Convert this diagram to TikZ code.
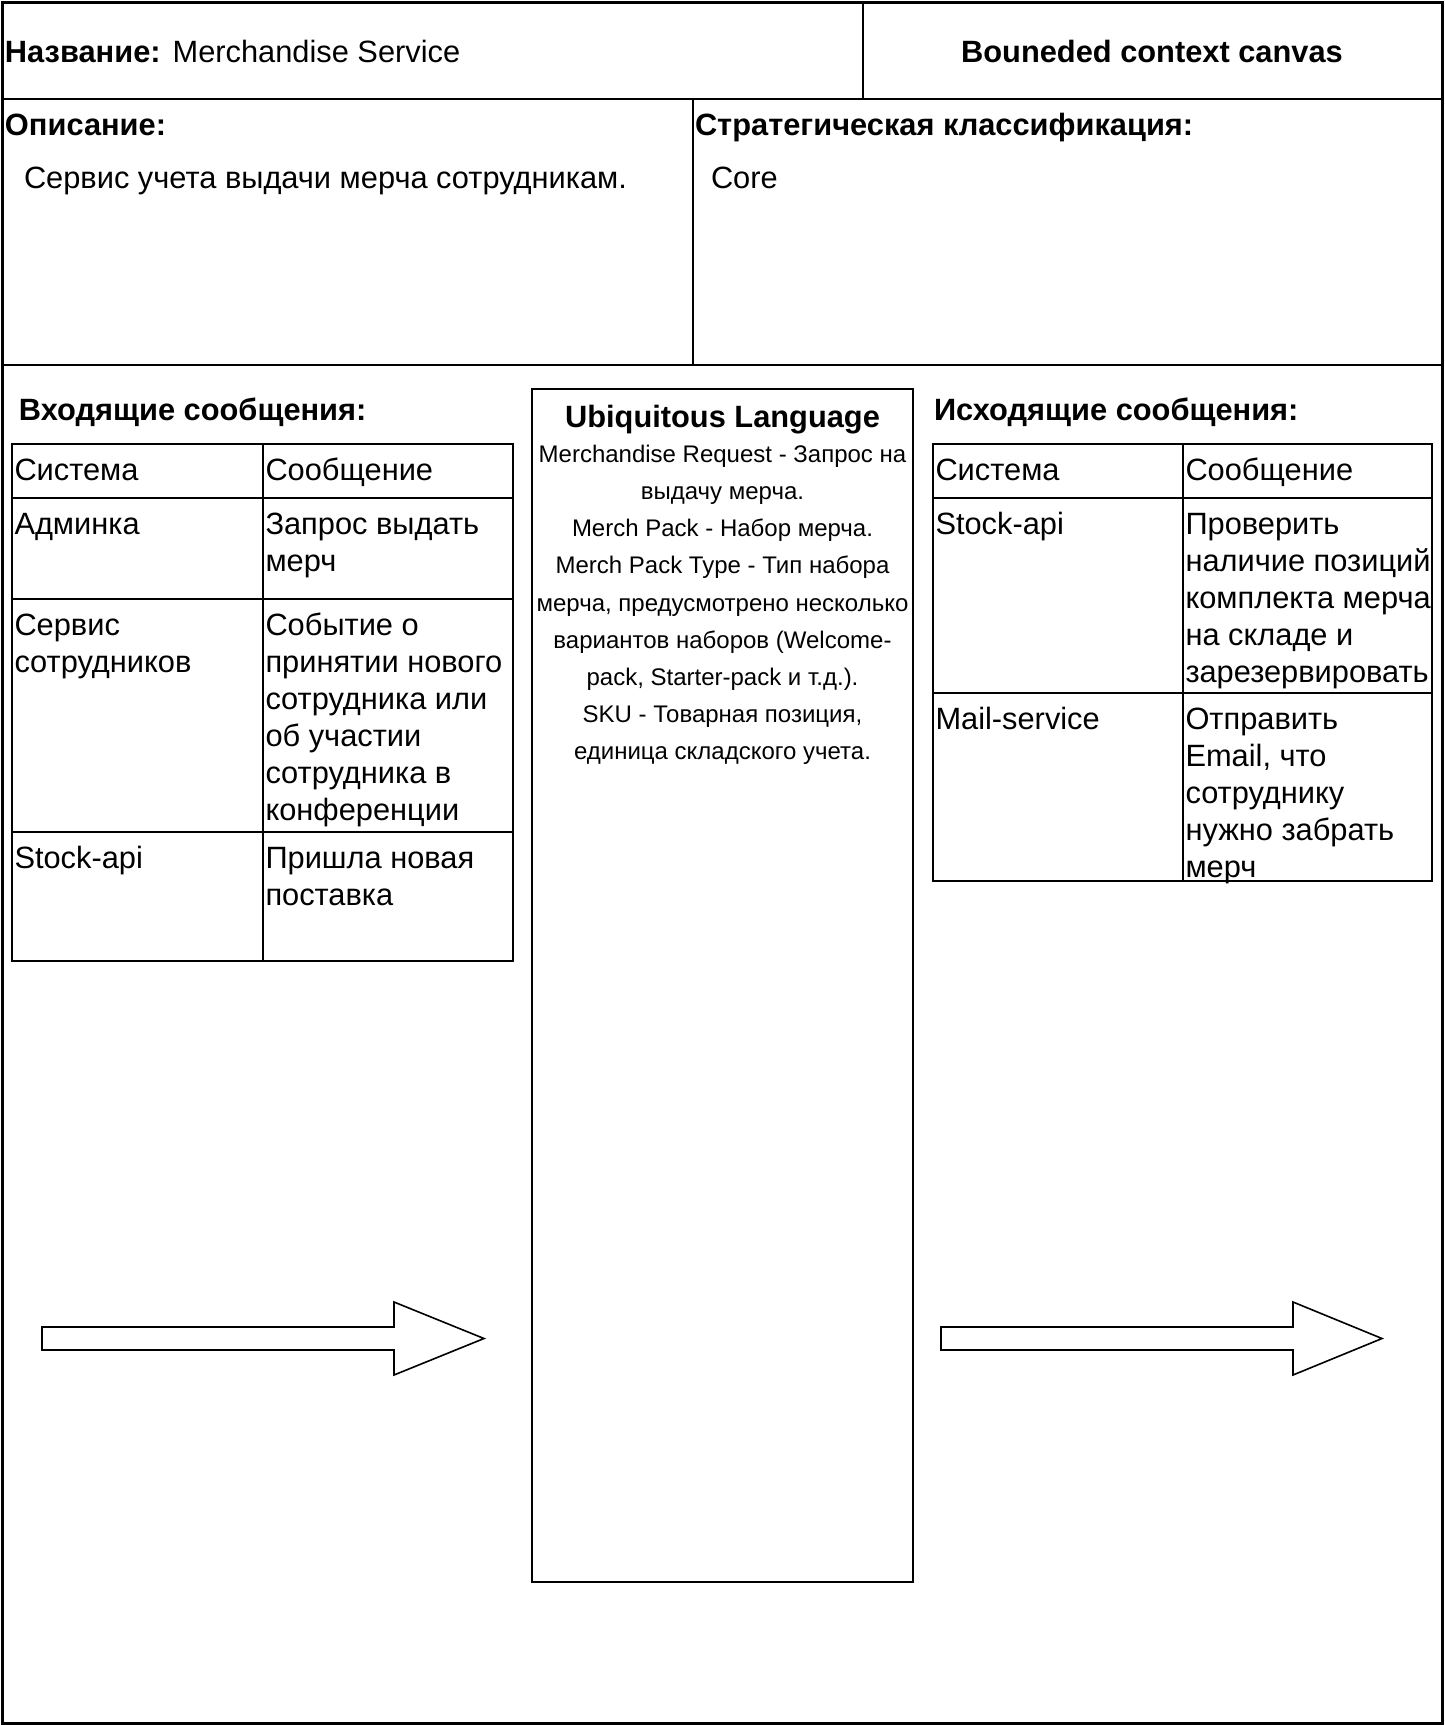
\documentclass[tikz,border=0pt]{standalone}
\usepackage{fontspec}
\setmainfont{Liberation Sans}
\begin{document}
\begin{tikzpicture}[x=1pt,y=-1pt,
  frame/.style={line width=3pt},
  sect/.style={line width=2pt},
  tbl/.style={line width=1.8pt},
  txt/.style={inner sep=0pt, outer sep=0pt, font=\fontsize{30.8pt}{37pt}\selectfont},
  small/.style={inner sep=0pt, outer sep=0pt, font=\fontsize{24pt}{37.1pt}\selectfont},
  blockarrow/.style={line width=1.6pt, line join=miter, fill=white}]
\useasboundingbox (0,0) rectangle (1444,1725);
\fill[white] (0,0) rectangle (1444,1725);
% frame and sections
\draw[frame] (2,2) rectangle (1442,1723);
\draw[sect] (2,99) -- (1442,99);
\draw[sect] (863,2) -- (863,99);
\draw[sect] (2,365) -- (1442,365);
\draw[sect] (693,99) -- (693,365);
% header texts
\node[txt, anchor=base west] (name) at (5,62) {\textbf{Название:}\hspace{12pt}Merchandise Service};
\node[txt, anchor=base] (bcc) at (1152,62) {\textbf{Bouneded context canvas}};
\node[txt, anchor=base west] (desch) at (5,135) {\textbf{Описание:}};
\node[txt, anchor=base west] (desc) at (24,188) {Сервис учета выдачи мерча сотрудникам.};
\node[txt, anchor=base west] (stratH) at (695,135) {\textbf{Стратегическая классификация:}};
\node[txt, anchor=base west] (strat) at (711,188) {Core};
% incoming
\node[txt, anchor=base west] (inH) at (19,420) {\textbf{Входящие сообщения:}};
\draw[tbl] (12,444) rectangle (513,961);
\draw[tbl] (263,444) -- (263,961);
\draw[tbl] (12,498) -- (513,498);
\draw[tbl] (12,599) -- (513,599);
\draw[tbl] (12,832) -- (513,832);
\node[txt, anchor=base west] (in11) at (14.5,480) {\parbox[t]{245pt}{\raggedright Система}};
\node[txt, anchor=base west] (in12) at (265.5,480) {\parbox[t]{245pt}{\raggedright Сообщение}};
\node[txt, anchor=base west] (in21) at (14.5,534) {\parbox[t]{245pt}{\raggedright Админка}};
\node[txt, anchor=base west] (in22) at (265.5,534) {\parbox[t]{245pt}{\raggedright Запрос выдать\\мерч}};
\node[txt, anchor=base west] (in31) at (14.5,635) {\parbox[t]{245pt}{\raggedright Сервис\\сотрудников}};
\node[txt, anchor=base west] (in32) at (265.5,635) {\parbox[t]{245pt}{\raggedright Событие о\\принятии нового\\сотрудника или\\об участии\\сотрудника в\\конференции}};
\node[txt, anchor=base west] (in41) at (14.5,868) {\parbox[t]{245pt}{\raggedright Stock-api}};
\node[txt, anchor=base west] (in42) at (265.5,868) {\parbox[t]{245pt}{\raggedright Пришла новая\\поставка}};
% ubiquitous language
\draw[line width=1.5pt] (532,389) rectangle (913,1582);
\node[txt, anchor=base] (ulH) at (722.5,427) {\textbf{Ubiquitous Language}};
\node[small, anchor=base] (ul) at (722.5,462.6) {\parbox[t]{381pt}{\centering Merchandise Request - Запрос на\\выдачу мерча.\\Merch Pack - Набор мерча.\\Merch Pack Type - Тип набора\\мерча, предусмотрено несколько\\вариантов наборов (Welcome-\\pack, Starter-pack и т.д.).\\SKU - Товарная позиция,\\единица складского учета.}};
% outgoing
\node[txt, anchor=base west] (outH) at (934,420) {\textbf{Исходящие сообщения:}};
\draw[tbl] (933,444) rectangle (1432,881);
\draw[tbl] (1183,444) -- (1183,881);
\draw[tbl] (933,498) -- (1432,498);
\draw[tbl] (933,693) -- (1432,693);
\node[txt, anchor=base west] (out11) at (935.5,480) {\parbox[t]{245pt}{\raggedright Система}};
\node[txt, anchor=base west] (out12) at (1185.5,480) {\parbox[t]{260pt}{\raggedright Сообщение}};
\node[txt, anchor=base west] (out21) at (935.5,534) {\parbox[t]{245pt}{\raggedright Stock-api}};
\node[txt, anchor=base west] (out22) at (1185.5,534) {\parbox[t]{260pt}{\raggedright Проверить\\наличие позиций\\комплекта мерча\\на складе и\\зарезервировать}};
\node[txt, anchor=base west] (out31) at (935.5,729) {\parbox[t]{245pt}{\raggedright Mail-service}};
\node[txt, anchor=base west] (out32) at (1185.5,729) {\parbox[t]{260pt}{\raggedright Отправить\\Email, что\\сотруднику\\нужно забрать\\мерч}};
% block arrows
\draw[blockarrow] (42,1327) -- (394,1327) -- (394,1302) -- (484,1338.5) -- (394,1375) -- (394,1350) -- (42,1350) -- cycle;
\draw[blockarrow] (941,1327) -- (1293,1327) -- (1293,1302) -- (1382,1338.5) -- (1293,1375) -- (1293,1350) -- (941,1350) -- cycle;
\end{tikzpicture}
\end{document}
